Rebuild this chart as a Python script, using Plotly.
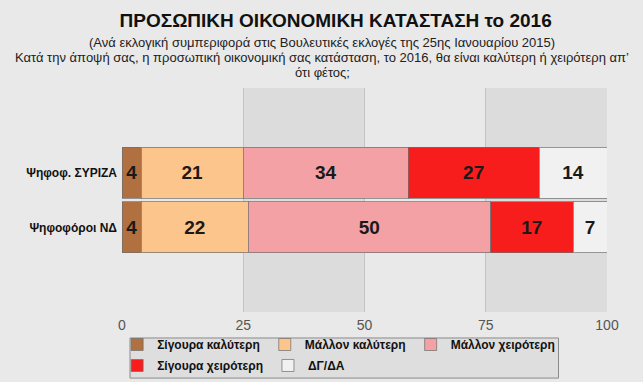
import plotly.graph_objects as go

categories = ["Ψηφοφ. ΣΥΡΙΖΑ", "Ψηφοφόροι ΝΔ"]
series_names = ["Σίγουρα καλύτερη", "Μάλλον καλύτερη", "Μάλλον χειρότερη",
                "Σίγουρα χειρότερη", "ΔΓ/ΔΑ"]
sigoura_kalyteri = [4, 4]
mallon_kalyteri = [21, 22]
mallon_xeiroteri = [34, 50]
sigoura_xeiroteri = [27, 17]
dg_da = [14, 7]
x_ticks = [0, 25, 50, 75, 100]

series_values = [sigoura_kalyteri, mallon_kalyteri, mallon_xeiroteri,
                 sigoura_xeiroteri, dg_da]
colors = ["#b0703f", "#fcc58c", "#f4a1a5", "#f71d1d", "#f1f1f1"]
legend_ids = ["legend", "legend", "legend", "legend2", "legend2"]

fig = go.Figure()
for name, vals, col, lg in zip(series_names, series_values, colors, legend_ids):
    fig.add_trace(go.Bar(
        y=categories, x=vals, name=name, orientation="h",
        marker=dict(color=col, line=dict(color="rgba(110,110,110,0.7)", width=1)),
        width=0.93,
        text=[str(v) for v in vals], textposition="inside",
        insidetextanchor="middle",
        textfont=dict(family="Liberation Sans, Arial", size=19, color="#1a1a1a", weight="bold"),
        constraintext="none",
        cliponaxis=False,
        legend=lg,
    ))

# alternating shaded bands
for a, b in [(25, 50), (75, 100)]:
    fig.add_shape(type="rect", xref="x", yref="paper", x0=a, x1=b, y0=0, y1=1,
                  fillcolor="#dcdcdc", line=dict(width=0), layer="below")

# legend frame
fig.add_shape(type="rect", xref="paper", yref="paper",
              x0=0.0165, x1=0.90, y0=-0.295, y1=-0.116,
              fillcolor="#dedede", line=dict(color="#8a8a8a", width=1), layer="below")

legend_common = dict(
    orientation="h", xanchor="left", yanchor="top",
    bgcolor="rgba(0,0,0,0)", borderwidth=0,
    font=dict(size=12, color="#111", weight="bold"),
    traceorder="normal", itemclick=False, itemdoubleclick=False,
)

fig.update_layout(
    width=643, height=382,
    barmode="stack",
    paper_bgcolor="#e9e9e9", plot_bgcolor="#e9e9e9",
    margin=dict(l=122, r=36, t=88, b=70, autoexpand=False),
    font=dict(family="Liberation Sans, Arial", color="#222"),
    title=dict(
        text="<b>ΠΡΟΣΩΠΙΚΗ ΟΙΚΟΝΟΜΙΚΗ ΚΑΤΑΣΤΑΣΗ το 2016</b>",
        x=0.522, xanchor="center", y=0.948, yanchor="middle",
        font=dict(size=19, color="#111"),
    ),
    showlegend=True,
    legend=dict(x=-0.01, y=-0.0804, **legend_common),
    legend2=dict(x=-0.01, y=-0.174, **legend_common),
    bargap=0.07,
)

sub_lines = [
    "(Ανά εκλογική συμπεριφορά στις Βουλευτικές εκλογές της 25ης Ιανουαρίου 2015)",
    "Κατά την άποψή σας, η προσωπική οικονομική σας κατάσταση, το 2016, θα είναι καλύτερη ή χειρότερη απ’",
    "ότι φέτος;",
]
for i, line in enumerate(sub_lines):
    fig.add_annotation(
        text=line, xref="paper", yref="paper", x=0.413, xanchor="center",
        y=1.0, yshift=46 - 15 * i, yanchor="middle",
        showarrow=False, font=dict(size=13, color="#222"), align="center",
    )

fig.update_xaxes(
    range=[0, 100], tickvals=x_ticks, ticktext=[str(t) for t in x_ticks],
    showgrid=True, gridcolor="#c4c4c4", gridwidth=1,
    zeroline=False, showline=False, automargin=False,
    tickfont=dict(size=14, color="#555"), ticks="", ticklabelstandoff=3,
)
fig.update_yaxes(
    categoryorder="array", categoryarray=categories[::-1],
    range=[-1.54, 2.54], showgrid=False, zeroline=False, showline=False,
    automargin=False,
    tickfont=dict(size=12, color="#111", weight="bold"), ticks="", ticklabelstandoff=4,
)

fig.write_html(
    "out.html",
    config={"displayModeBar": False},
    post_script="document.body.style.margin='0';document.body.style.background='#e9e9e9';",
)
